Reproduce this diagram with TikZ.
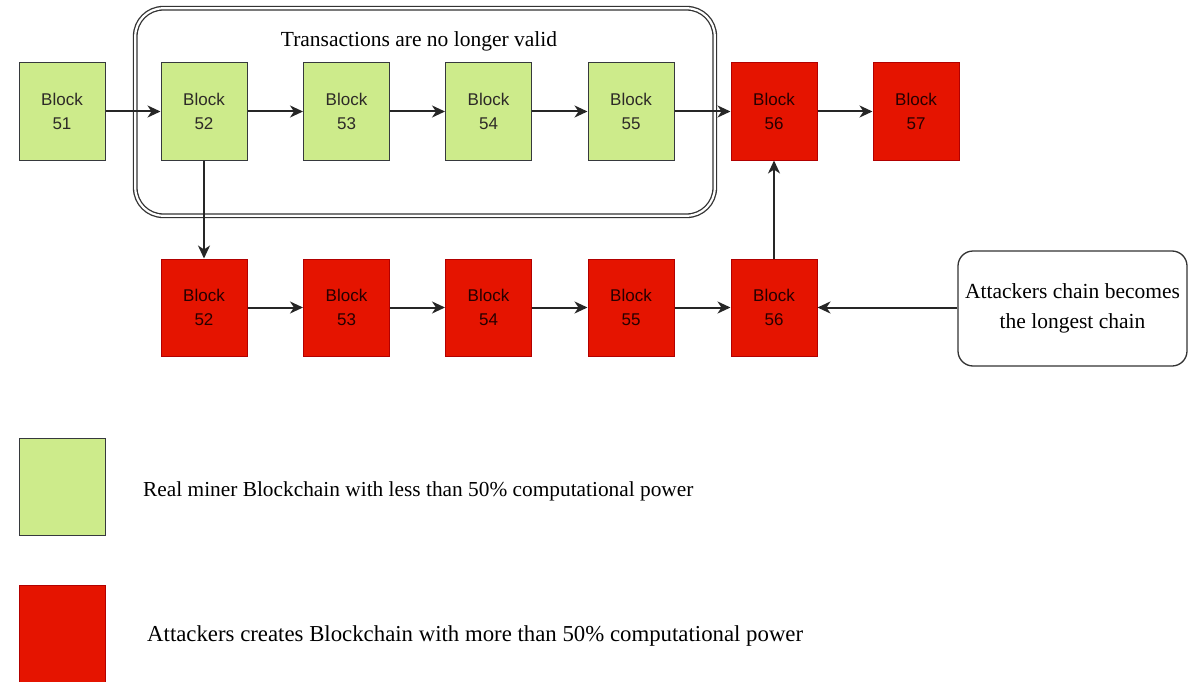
\documentclass[tikz,border=0pt]{standalone}
\usepackage{fontspec}
\setmainfont{Liberation Serif}
\newfontfamily\blockfont{Liberation Sans}
\usetikzlibrary{arrows.meta}
\definecolor{gfill}{HTML}{CDEB8B}
\definecolor{gdraw}{HTML}{36393D}
\definecolor{rfill}{HTML}{E51400}
\definecolor{rdraw}{HTML}{B20000}
\begin{document}
\begin{tikzpicture}[x=1pt,y=-1pt,
  blk/.style={minimum width=86pt,minimum height=97pt,inner sep=0pt,align=center,
    font=\blockfont\fontsize{17}{24}\selectfont,line width=1pt},
  gblk/.style={blk,fill=gfill,draw=gdraw,text=black!90!olive},
  rblk/.style={blk,fill=rfill,draw=rdraw,text=black!85!red},
  arr/.style={-{Stealth[length=13pt,width=12pt,inset=4pt]},line width=2pt,draw=black!85},
  serif/.style={font=\fontsize{21.5}{30}\selectfont,inner sep=0pt}]
\useasboundingbox (0,0) rectangle (1199,682);
\fill[white] (0,0) rectangle (1199,682);
% container
\node[draw=black!80,double,double distance=2.2pt,line width=1.3pt,rounded corners=28pt,
  minimum width=579.5pt,minimum height=207.5pt,inner sep=0pt] (grp) at (425,112) {};
\node[serif] (title) at (419,41) {Transactions are no longer valid};
% top row
\node[gblk] (t51) at (62,111.5) {Block\\51};
\node[gblk] (t52) at (204,111.5) {Block\\52};
\node[gblk] (t53) at (346.5,111.5) {Block\\53};
\node[gblk] (t54) at (488.5,111.5) {Block\\54};
\node[gblk] (t55) at (631,111.5) {Block\\55};
\node[rblk] (t56) at (774,111.5) {Block\\56};
\node[rblk] (t57) at (916,111.5) {Block\\57};
% bottom row
\node[rblk] (b52) at (204,307.5) {Block\\52};
\node[rblk] (b53) at (346.5,307.5) {Block\\53};
\node[rblk] (b54) at (488.5,307.5) {Block\\54};
\node[rblk] (b55) at (631,307.5) {Block\\55};
\node[rblk] (b56) at (774,307.5) {Block\\56};
% attackers note
\node[draw=black!80,line width=1.3pt,rounded corners=15pt,minimum width=229pt,minimum height=115pt,
  align=center,font=\fontsize{21.5}{30}\selectfont,inner sep=0pt] (note) at (1072.5,308.5)
  {Attackers chain becomes\\the longest chain};
% arrows
\draw[arr] (t51) -- (t52);
\draw[arr] (t52) -- (t53);
\draw[arr] (t53) -- (t54);
\draw[arr] (t54) -- (t55);
\draw[arr] (t55) -- (t56);
\draw[arr] (t56) -- (t57);
\draw[arr] (t52.south) -- (b52.north);
\draw[arr] (b52) -- (b53);
\draw[arr] (b53) -- (b54);
\draw[arr] (b54) -- (b55);
\draw[arr] (b55) -- (b56);
\draw[arr] (b56.north) -- (t56.south);
\draw[arr] (note.west |- b56.east) -- (b56.east);
% legend
\node[gblk] (lg) at (62,487) {};
\node[rblk] (lr) at (62,633.5) {};
\node[serif,anchor=west,font=\fontsize{21.35}{30}\selectfont] (lgt) at (143,491) {Real miner Blockchain with less than 50\% computational power};
\node[serif,anchor=west,font=\fontsize{22.8}{30}\selectfont] (lrt) at (147,636) {Attackers creates Blockchain with more than 50\% computational power};
\end{tikzpicture}
\end{document}
